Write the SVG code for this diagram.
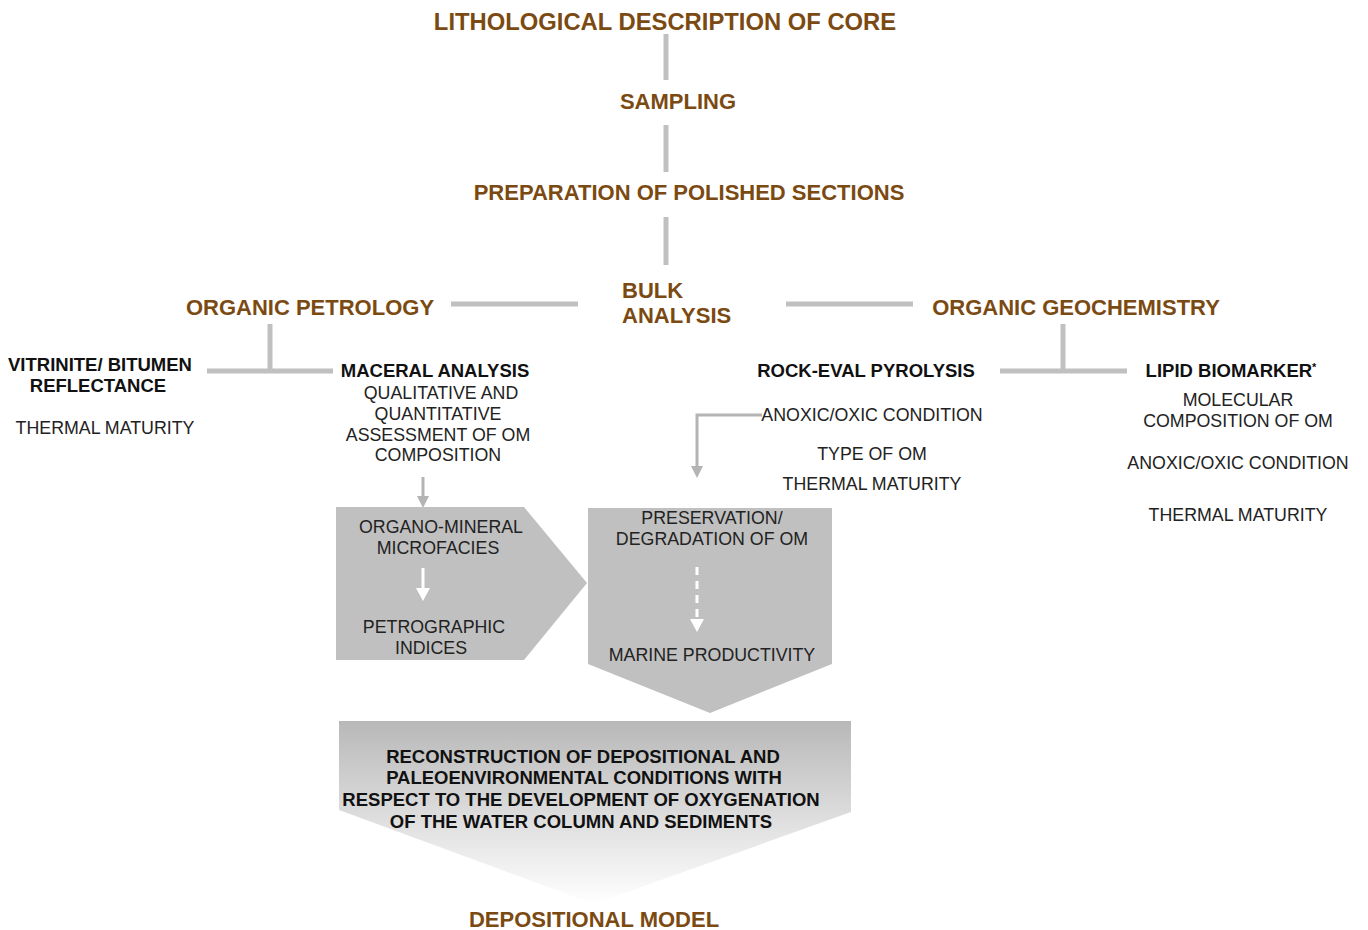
<svg xmlns="http://www.w3.org/2000/svg" width="1368" height="930" viewBox="0 0 1368 930">
<style>
.h{font-family:"Liberation Sans",Arial,sans-serif;font-weight:bold;font-size:22px;fill:#7b4a12;text-anchor:middle}
.b{font-family:"Liberation Sans",Arial,sans-serif;font-weight:bold;font-size:18.5px;fill:#111;text-anchor:middle}
.n{font-family:"Liberation Sans",Arial,sans-serif;font-size:17.8px;fill:#222;text-anchor:middle}
.ln{stroke:#c0c0c0;stroke-width:5;fill:none}
.ar{stroke:#b4b4b4;stroke-width:3;fill:none}
.sh{fill:#c0c0c0}
</style>
<defs>
<linearGradient id="g" x1="0" y1="0" x2="0" y2="1">
<stop offset="0" stop-color="#b8b8b8"/>
<stop offset="1" stop-color="#ffffff"/>
</linearGradient>
</defs>
<rect width="1368" height="930" fill="#fff"/>
<g id="connectors">
<line class="ln" x1="666" y1="34" x2="666" y2="80"/>
<line class="ln" x1="666" y1="125" x2="666" y2="172"/>
<line class="ln" x1="666" y1="217" x2="666" y2="265"/>
<line class="ln" x1="451" y1="304" x2="578" y2="304"/>
<line class="ln" x1="786" y1="304" x2="913" y2="304"/>
<line class="ln" x1="270" y1="324" x2="270" y2="371"/>
<line class="ln" x1="207" y1="371" x2="333" y2="371"/>
<line class="ln" x1="1063" y1="324" x2="1063" y2="371"/>
<line class="ln" x1="1000" y1="371" x2="1127" y2="371"/>
<polyline class="ar" points="762,415 697,415 697,468"/>
<path d="M691,466 L703,466 L697,478 Z" fill="#b4b4b4"/>
<line class="ar" x1="423" y1="477" x2="423" y2="498"/>
<path d="M417,496 L429,496 L423,508 Z" fill="#b4b4b4"/>
</g>
<g id="lithological"><text class="h" x="665" y="30" style="font-size:23.8px">LITHOLOGICAL DESCRIPTION OF CORE</text></g>
<g id="sampling"><text class="h" x="678" y="109">SAMPLING</text></g>
<g id="preparation"><text class="h" x="689" y="200">PREPARATION OF POLISHED SECTIONS</text></g>
<g id="bulk"><text class="h" x="622" y="298" style="text-anchor:start">BULK</text><text class="h" x="622" y="323" style="text-anchor:start">ANALYSIS</text></g>
<g id="petrology"><text class="h" x="310" y="315">ORGANIC PETROLOGY</text></g>
<g id="geochemistry"><text class="h" x="1076" y="315">ORGANIC GEOCHEMISTRY</text></g>
<g id="vitrinite">
<text class="b" x="100" y="371">VITRINITE/ BITUMEN</text>
<text class="b" x="98" y="392">REFLECTANCE</text>
<text class="n" x="105" y="434">THERMAL MATURITY</text>
</g>
<g id="maceral">
<text class="b" x="435" y="377">MACERAL ANALYSIS</text>
<text class="n" x="441" y="399">QUALITATIVE AND</text>
<text class="n" x="438" y="420">QUANTITATIVE</text>
<text class="n" x="438" y="441">ASSESSMENT OF OM</text>
<text class="n" x="438" y="461">COMPOSITION</text>
</g>
<g id="rockeval">
<text class="b" x="866" y="377">ROCK-EVAL PYROLYSIS</text>
<text class="n" x="872" y="421">ANOXIC/OXIC CONDITION</text>
<text class="n" x="872" y="460">TYPE OF OM</text>
<text class="n" x="872" y="490">THERMAL MATURITY</text>
</g>
<g id="lipid">
<text class="b" x="1231" y="377">LIPID BIOMARKER<tspan font-size="11" dy="-6">*</tspan></text>
<text class="n" x="1238" y="406">MOLECULAR</text>
<text class="n" x="1238" y="427">COMPOSITION OF OM</text>
<text class="n" x="1238" y="469">ANOXIC/OXIC CONDITION</text>
<text class="n" x="1238" y="521">THERMAL MATURITY</text>
</g>
<g id="microfacies">
<polygon class="sh" points="336,507 524,507 587,583 524,660 336,660"/>
<text class="n" x="441" y="533">ORGANO-MINERAL</text>
<text class="n" x="438" y="554">MICROFACIES</text>
<line x1="423" y1="568" x2="423" y2="590" stroke="#fff" stroke-width="3"/>
<path d="M416,588 L430,588 L423,601 Z" fill="#fff"/>
<text class="n" x="434" y="633">PETROGRAPHIC</text>
<text class="n" x="431" y="654">INDICES</text>
</g>
<g id="preservation">
<polygon class="sh" points="588,508 832,508 832,664 710,713 588,664"/>
<text class="n" x="712" y="524">PRESERVATION/</text>
<text class="n" x="712" y="545">DEGRADATION OF OM</text>
<line x1="697" y1="567" x2="697" y2="620" stroke="#fff" stroke-width="3" stroke-dasharray="8,6"/>
<path d="M690,619 L704,619 L697,632 Z" fill="#fff"/>
<text class="n" x="712" y="661">MARINE PRODUCTIVITY</text>
</g>
<g id="reconstruction">
<polygon fill="url(#g)" points="339,721 851,721 851,812 594,904 339,810"/>
<text class="b" x="583" y="763">RECONSTRUCTION OF DEPOSITIONAL AND</text>
<text class="b" x="584" y="784">PALEOENVIRONMENTAL CONDITIONS WITH</text>
<text class="b" x="581" y="806">RESPECT TO THE DEVELOPMENT OF OXYGENATION</text>
<text class="b" x="581" y="828">OF THE WATER COLUMN AND SEDIMENTS</text>
</g>
<g id="model"><text class="h" x="594" y="927">DEPOSITIONAL MODEL</text></g>
</svg>
